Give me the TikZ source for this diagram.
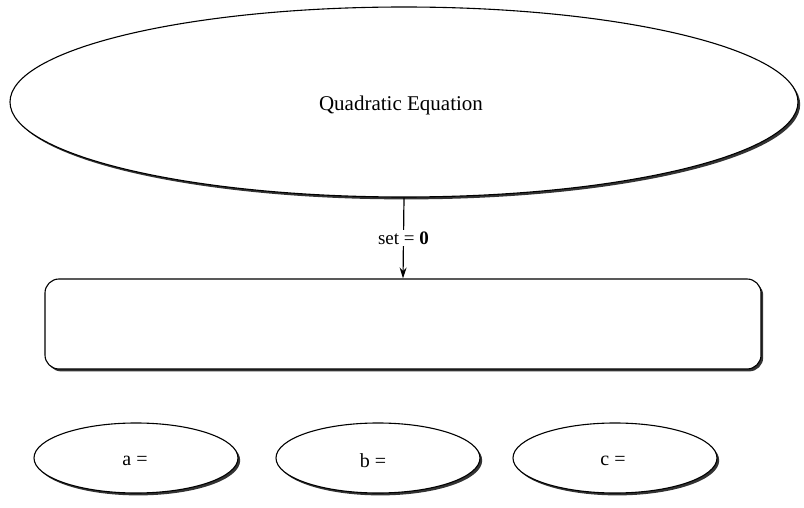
\documentclass[tikz,border=0pt]{standalone}
\usepackage{fontspec}
\setmainfont{Liberation Serif}
\usetikzlibrary{shapes.geometric,shadows,arrows.meta}
\begin{document}
\begin{tikzpicture}[x=1pt,y=1pt,
  shad/.style={drop shadow={shadow xshift=2.2pt,shadow yshift=-2.4pt,fill=black!80,opacity=1}},
  bigell/.style={ellipse,draw,line width=1.1pt,fill=white,shad,minimum width=788pt,minimum height=190pt,inner sep=0pt},
  smallell/.style={ellipse,draw,line width=1.1pt,fill=white,shad,minimum width=204pt,minimum height=70pt,inner sep=0pt},
  boxstyle/.style={rectangle,rounded corners=14pt,draw,line width=1.1pt,fill=white,shad,minimum width=716pt,minimum height=90pt,inner sep=0pt},
  lbl/.style={font=\fontsize{20}{22}\selectfont,inner sep=1pt},
  conn/.style={line width=1.2pt,-{Stealth[length=11pt,width=7pt]}}
]
\useasboundingbox (0,0) rectangle (804,-508);
\node[bigell] (qe) at (404,-102) {};
\node[font=\fontsize{21}{24}\selectfont] (qet) at (401,-105) {Quadratic Equation};
\node[boxstyle] (box) at (403,-324) {};
\node[smallell] (a) at (136,-458) {};
\node[smallell] (b) at (378,-458) {};
\node[smallell] (c) at (615,-458) {};
\node[lbl] (at) at (135,-461) {a =};
\node[lbl] (bt) at (373,-461) {b =};
\node[lbl] (ct) at (613,-461) {c =};
\draw[conn] (qe.south) -- node[fill=white,inner sep=2pt,font=\fontsize{19}{21}\selectfont] {set = \textbf{0}} (box.north);
\end{tikzpicture}
\end{document}
